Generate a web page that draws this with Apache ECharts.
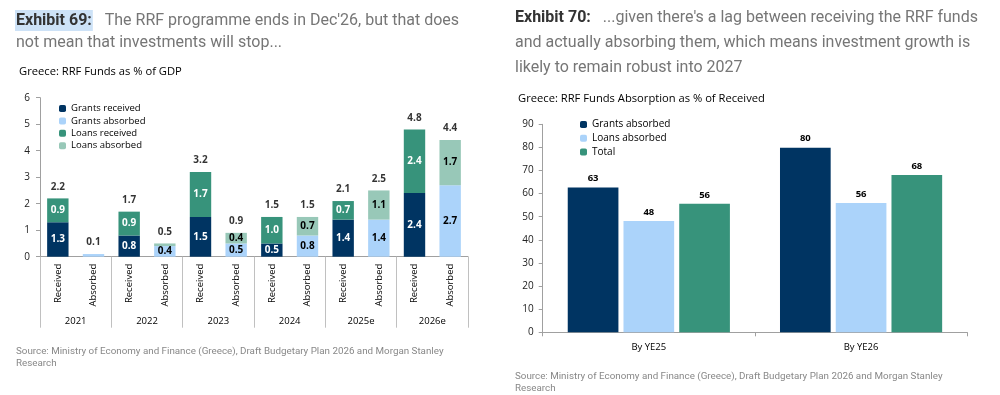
<!DOCTYPE html>
<html>
<head>
<meta charset="utf-8">
<script src="https://cdn.jsdelivr.net/npm/echarts@6/dist/echarts.min.js"></script>
<style>
html,body{margin:0;padding:0;background:#fff;}
#c{width:1000px;height:395px;}
</style>
</head>
<body>
<div id="c"></div>
<script>
// ---------- Data: Exhibit 69 ----------
const years = ['2021', '2022', '2023', '2024', '2025e', '2026e'];
const barKinds = ['Received', 'Absorbed'];
const grantsReceived = [1.3, 0.8, 1.5, 0.5, 1.4, 2.4];
const loansReceived  = [0.9, 0.9, 1.7, 1.0, 0.7, 2.4];
const grantsAbsorbed = [0.1, 0.4, 0.5, 0.8, 1.4, 2.7];
const loansAbsorbed  = [0.0, 0.1, 0.4, 0.7, 1.1, 1.7];
const yTicks69 = [0, 1, 2, 3, 4, 5, 6];

// ---------- Data: Exhibit 70 ----------
const periods = ['By YE25', 'By YE26'];
const grantsAbsPct = [62.6, 79.9];
const loansAbsPct  = [48.2, 56.0];
const totalPct     = [55.6, 68.1];
const yTicks70 = [0, 10, 20, 30, 40, 50, 60, 70, 80, 90];

const C_NAVY = '#003462';
const C_LBLUE = '#abd3fa';
const C_TEAL = '#37937b';
const C_LTEAL = '#98c8b8';

// Build 12-slot arrays (Received, Absorbed per year)
const cats12 = [];
years.forEach(() => barKinds.forEach(k => cats12.push(k)));
function slotted(arr, idx) {
  const out = [];
  arr.forEach(v => { if (idx === 0) { out.push(v, null); } else { out.push(null, v); } });
  return out;
}
const totals12 = [];
years.forEach((y, i) => {
  totals12.push(+(grantsReceived[i] + loansReceived[i]).toFixed(1));
  totals12.push(+(grantsAbsorbed[i] + loansAbsorbed[i]).toFixed(1));
});

const FONT = '"Open Sans", "Noto Sans", sans-serif';
const HFONT = 'Roboto, "Noto Sans", sans-serif';

function segLabel(color) {
  return {
    show: true, position: 'inside', fontFamily: FONT, fontWeight: 'bold',
    fontSize: 10, color: color,
    formatter: p => (p.value != null && p.value >= 0.3) ? p.value.toFixed(1) : ''
  };
}

const headerRich = {
  h: { fontFamily: HFONT, fontSize: 16, fontWeight: 'bold', color: '#333', backgroundColor: '#cde2f7', padding: [3, 1, 2, 1] },
  h2: { fontFamily: HFONT, fontSize: 16, fontWeight: 'bold', color: '#333' },
  t: { fontFamily: HFONT, fontSize: 16, fontWeight: 'normal', color: '#767676' }
};
const headerStyle = { fontWeight: 'normal', rich: headerRich };
const subStyle = { fontFamily: FONT, fontSize: 11.2, fontWeight: 'normal', color: '#000' };
const srcStyle = { fontFamily: HFONT, fontSize: 9.8, fontWeight: 'normal', color: '#888', lineHeight: 12 };
const SRC = 'Source: Ministry of Economy and Finance (Greece), Draft Budgetary Plan 2026 and Morgan Stanley\nResearch';

const option = {
  animation: false,
  title: [
    { left: 15, top: 10, padding: 0, text: '{h|Exhibit 69:}{t|   The RRF programme ends in Dec\'26, but that does}', textStyle: headerStyle },
    { left: 16, top: 35, padding: 0, text: '{t|not mean that investments will stop...}', textStyle: headerStyle },
    { left: 515, top: 10, padding: 0, text: '{h2|Exhibit 70:}{t|   ...given there\'s a lag between receiving the RRF funds}', textStyle: headerStyle },
    { left: 515, top: 35, padding: 0, text: '{t|and actually absorbing them, which means investment growth is}', textStyle: headerStyle },
    { left: 515, top: 60, padding: 0, text: '{t|likely to remain robust into 2027}', textStyle: headerStyle },
    { left: 19, top: 66.5, padding: 0, text: 'Greece: RRF Funds as % of GDP', textStyle: subStyle },
    { left: 518, top: 93.5, padding: 0, text: 'Greece: RRF Funds Absorption as % of Received', textStyle: subStyle },
    { left: 16, top: 346, padding: 0, text: SRC, textStyle: srcStyle },
    { left: 515, top: 371, padding: 0, text: SRC, textStyle: srcStyle }
  ],
  legend: [
    {
      orient: 'vertical', left: 59, top: 103.5, padding: 0, itemWidth: 7, itemHeight: 7, itemGap: 2.4,
      textStyle: { fontFamily: FONT, fontSize: 9.5, color: '#000', lineHeight: 10 },
      data: ['Grants received', 'Grants absorbed', 'Loans received', 'Loans absorbed']
    },
    {
      orient: 'vertical', left: 580, top: 119.5, padding: 0, itemWidth: 7, itemHeight: 7, itemGap: 3.8,
      textStyle: { fontFamily: FONT, fontSize: 10, color: '#000', lineHeight: 10 },
      data: ['Grants absorbed ', 'Loans absorbed ', 'Total']
    }
  ],
  grid: [
    { left: 40, top: 97.7, width: 428, height: 159, containLabel: false },
    { left: 542.7, top: 124.3, width: 424.5, height: 208, containLabel: false }
  ],
  xAxis: [
    {
      gridIndex: 0, type: 'category', data: cats12,
      axisLine: { show: true, lineStyle: { color: '#a0a0a0' } },
      axisTick: { show: false },
      axisLabel: { rotate: 90, margin: 7, fontFamily: FONT, fontSize: 9.5, color: '#000', interval: 0 }
    },
    {
      gridIndex: 0, type: 'category', data: years, position: 'bottom',
      axisLine: { show: false },
      axisTick: { show: true, length: 71, lineStyle: { color: '#c0c0c0' } },
      axisLabel: { margin: 60, fontFamily: FONT, fontSize: 9.5, color: '#000' }
    },
    {
      gridIndex: 1, type: 'category', data: periods,
      axisLine: { show: true, lineStyle: { color: '#a0a0a0' } },
      axisTick: { show: true, length: 4, lineStyle: { color: '#a0a0a0' } },
      axisLabel: { margin: 10, fontFamily: FONT, fontSize: 9.5, color: '#000' }
    }
  ],
  yAxis: [
    {
      gridIndex: 0, type: 'value', min: yTicks69[0], max: yTicks69[yTicks69.length - 1], interval: 1,
      axisLine: { show: true, lineStyle: { color: '#a0a0a0' } },
      axisTick: { show: true, length: 4, lineStyle: { color: '#a0a0a0' } },
      splitLine: { show: false },
      axisLabel: { margin: 10, fontFamily: FONT, fontSize: 10, color: '#222' }
    },
    {
      gridIndex: 1, type: 'value', min: yTicks70[0], max: yTicks70[yTicks70.length - 1], interval: 10,
      axisLine: { show: true, lineStyle: { color: '#a0a0a0' } },
      axisTick: { show: true, length: 4, lineStyle: { color: '#a0a0a0' } },
      splitLine: { show: false },
      axisLabel: { margin: 9, fontFamily: FONT, fontSize: 10, color: '#222' }
    }
  ],
  series: [
    { name: 'Grants received', type: 'bar', stack: 'a', xAxisIndex: 0, yAxisIndex: 0, barCategoryGap: '40%',
      data: slotted(grantsReceived, 0), itemStyle: { color: C_NAVY }, label: segLabel('#fff') },
    { name: 'Grants absorbed', type: 'bar', stack: 'a', xAxisIndex: 0, yAxisIndex: 0, barCategoryGap: '40%',
      data: slotted(grantsAbsorbed, 1), itemStyle: { color: C_LBLUE }, label: segLabel('#000') },
    { name: 'Loans received', type: 'bar', stack: 'a', xAxisIndex: 0, yAxisIndex: 0, barCategoryGap: '40%',
      data: slotted(loansReceived, 0), itemStyle: { color: C_TEAL }, label: segLabel('#fff') },
    { name: 'Loans absorbed', type: 'bar', stack: 'a', xAxisIndex: 0, yAxisIndex: 0, barCategoryGap: '40%',
      data: slotted(loansAbsorbed, 1), itemStyle: { color: C_LTEAL }, label: segLabel('#000') },
    { name: 'totals', type: 'scatter', xAxisIndex: 0, yAxisIndex: 0, symbolSize: 1, silent: true,
      itemStyle: { color: 'rgba(0,0,0,0)' }, data: totals12,
      label: { show: true, position: 'top', distance: 6, fontFamily: FONT, fontWeight: 'bold', fontSize: 10, color: '#000',
        formatter: p => p.value.toFixed(1) } },

    { name: 'Grants absorbed ', type: 'bar', xAxisIndex: 2, yAxisIndex: 1, barCategoryGap: '23.6%', barGap: '10%',
      data: grantsAbsPct, itemStyle: { color: C_NAVY },
      label: { show: true, position: 'top', distance: 4, fontFamily: FONT, fontWeight: 'bold', fontSize: 9.5, color: '#000', formatter: p => Math.round(p.value) } },
    { name: 'Loans absorbed ', type: 'bar', xAxisIndex: 2, yAxisIndex: 1, barCategoryGap: '23.6%', barGap: '10%',
      data: loansAbsPct, itemStyle: { color: C_LBLUE },
      label: { show: true, position: 'top', distance: 4, fontFamily: FONT, fontWeight: 'bold', fontSize: 9.5, color: '#000', formatter: p => Math.round(p.value) } },
    { name: 'Total', type: 'bar', xAxisIndex: 2, yAxisIndex: 1, barCategoryGap: '23.6%', barGap: '10%',
      data: totalPct, itemStyle: { color: C_TEAL },
      label: { show: true, position: 'top', distance: 4, fontFamily: FONT, fontWeight: 'bold', fontSize: 9.5, color: '#000', formatter: p => Math.round(p.value) } }
  ]
};

const chart = echarts.init(document.getElementById('c'), null, { renderer: 'canvas' });
chart.setOption(option);
</script>
</body>
</html>
